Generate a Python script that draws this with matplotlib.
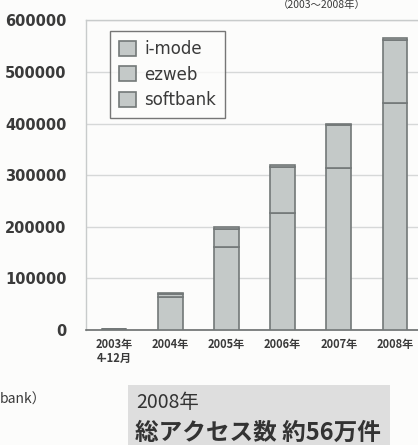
import numpy as np
import matplotlib.pyplot as plt

plt.rcParams['font.family'] = ['Noto Sans CJK JP', 'DejaVu Sans']

# data
years = ['2003年\n4-12月', '2004年', '2005年', '2006年', '2007年', '2008年']
imode = [2000, 63000, 160000, 226000, 313000, 439000]
ezweb = [500, 7000, 36000, 90000, 84000, 123000]
softbank = [0, 1500, 3500, 4000, 3000, 3000]
series_names = ['i-mode', 'ezweb', 'softbank']
yticks = [0, 100000, 200000, 300000, 400000, 500000, 600000]

bar_face = '#c4c9c8'
bar_edge = '#737878'
txt = '#3a3a3a'

fig = plt.figure(figsize=(4.18, 4.45), dpi=100)
fig.patch.set_facecolor('#fcfcfb')
ax = fig.add_axes([86 / 418, 1 - 330 / 445, 1 - 86 / 418, (330 - 20.4) / 445])
ax.set_facecolor('#fcfcfb')

x = np.arange(len(years))
w = 0.44
bottom = np.zeros(len(years))
for name, vals in zip(series_names, [imode, ezweb, softbank]):
    ax.bar(x, vals, w, bottom=bottom, color=bar_face, edgecolor=bar_edge,
           linewidth=1.2, label=name, zorder=3)
    bottom += np.array(vals)

ax.set_xlim(-0.5, 5.41)
ax.set_ylim(0, 600000)
ax.set_yticks(yticks)
ax.set_yticklabels([str(v) for v in yticks], fontsize=10.5, fontweight='bold',
                   color=txt, family=['DejaVu Sans'])
ax.set_xticks(x)
ax.set_xticklabels(years, fontsize=8, fontweight='bold', color=txt, linespacing=1.05)
ax.tick_params(axis='both', length=0)
ax.tick_params(axis='y', pad=14)
ax.tick_params(axis='x', pad=6)

ax.grid(axis='y', color='#d6d8d8', linewidth=1.0, zorder=0)
for s in ['left', 'top']:
    ax.spines[s].set_color('#c8cbcb')
    ax.spines[s].set_linewidth(1.0)
ax.spines['right'].set_visible(False)
ax.spines['bottom'].set_color('#6a6e6e')
ax.spines['bottom'].set_linewidth(1.2)

leg = ax.legend(loc='upper left', bbox_to_anchor=(0.072, 0.966),
                frameon=True, fancybox=False, handlelength=1.0, handleheight=1.0,
                handletextpad=0.5, borderpad=0.55, labelspacing=0.45,
                borderaxespad=0, prop={'family': ['DejaVu Sans'], 'size': 12})
leg.get_frame().set_edgecolor('#555555')
leg.get_frame().set_linewidth(1.0)
leg.get_frame().set_facecolor('#fcfcfb')
for t in leg.get_texts():
    t.set_color(txt)

# texts around the chart
fig.text(322 / 418, 1.0, '（2003～2008年）', ha='center', va='top',
         fontsize=7.5, color=txt)
fig.text(0, 1 - 400 / 445, 'bank）', ha='left', va='center',
         fontsize=10, color=txt)

# summary box
box = plt.Rectangle((128 / 418, 0), (390 - 128) / 418, (445 - 385) / 445,
                    transform=fig.transFigure, facecolor='#dedede',
                    edgecolor='none', zorder=0)
fig.patches.append(box)
fig.text(136 / 418, 1 - 403 / 445, '2008年', ha='left', va='center',
         fontsize=14, color='#333333')
fig.text(135 / 418, 1 - 433 / 445, '総アクセス数 約56万件', ha='left', va='center',
         fontsize=17, fontweight='bold', color='#333333')

fig.savefig('out.png', dpi=100, facecolor=fig.get_facecolor())
